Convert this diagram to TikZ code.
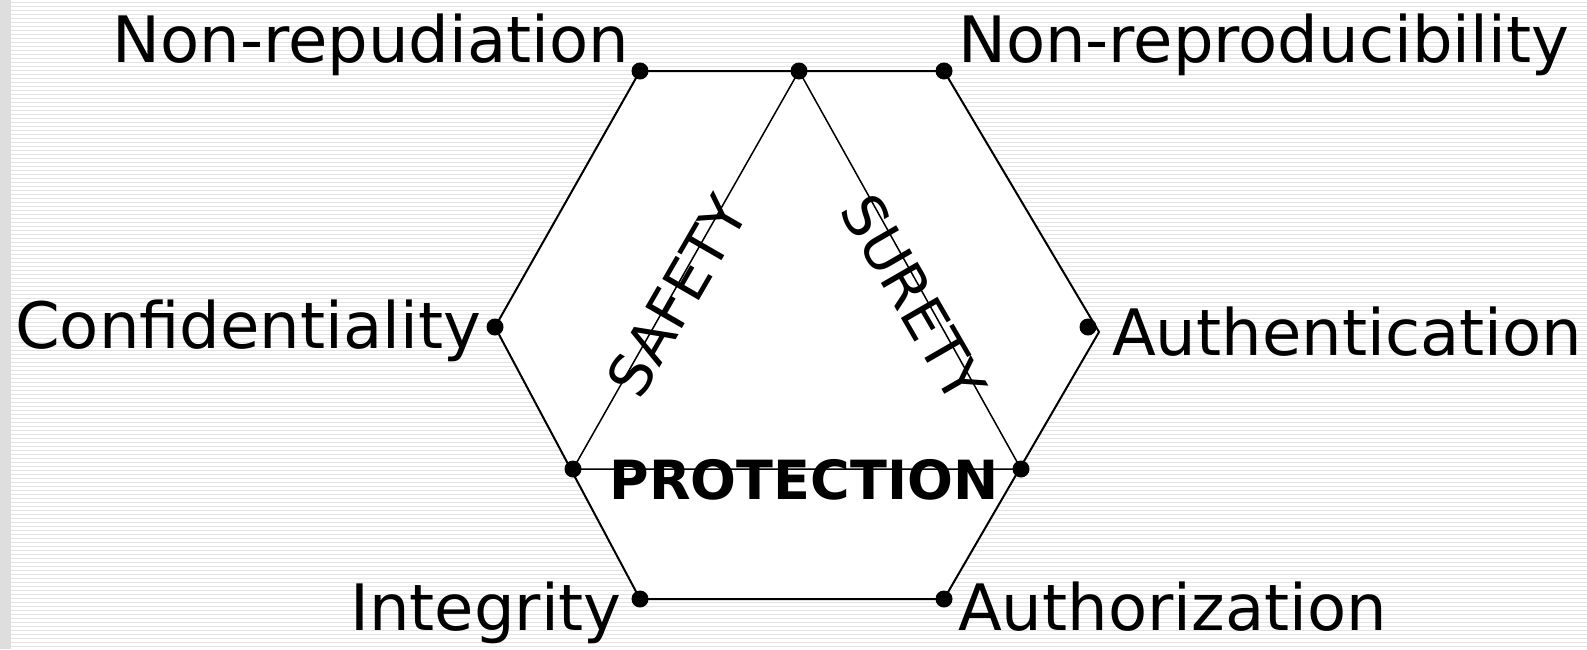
\documentclass[tikz,border=0pt]{standalone}
\usepackage{fontspec}
\setmainfont{DejaVu Sans}
\definecolor{stripe}{HTML}{E3E3E3}
\definecolor{leftbar}{HTML}{DEDEDE}
\begin{document}
\begin{tikzpicture}[x=1pt,y=-1pt,
  dot/.style={circle,fill=black,inner sep=0pt,minimum size=17pt},
  lbl/.style={inner sep=0pt,font=\fontsize{64}{70}\selectfont},
  word/.style={inner sep=0pt,font=\fontsize{58}{62}\selectfont},
  boldword/.style={inner sep=0pt,font=\fontsize{54}{60}\selectfont\bfseries},
  hexline/.style={line width=2pt,line join=miter},
  triline/.style={line width=1.5pt}]
\useasboundingbox (0,0) rectangle (1587,649);
\fill[white] (0,0) rectangle (1587,649);
\foreach \y in {2,6,...,646} \draw[stripe,line width=1pt] (10,\y) -- (1587,\y);
\fill[leftbar] (0,0) rectangle (11,649);
% vertices
\coordinate (TL) at (640,71);
\coordinate (TM) at (799,71);
\coordinate (TR) at (944,71);
\coordinate (hR) at (1099,332);
\coordinate (R) at (1088,327);
\coordinate (BR) at (944,599);
\coordinate (BL) at (640,599);
\coordinate (L) at (495,327);
\coordinate (LL) at (573,469);
\coordinate (LR) at (1021,469);
% hexagon
\fill[white] (TL) -- (TR) -- (hR) -- (BR) -- (BL) -- (L) -- cycle;
\draw[hexline] (TL) -- (TM) -- (TR) -- (hR) -- (BR) -- (BL) -- (L) -- cycle;
% triangle
\draw[triline] (TM) -- (LL) -- (LR) -- cycle;
% dots
\foreach \p in {TL,TM,TR,R,BR,BL,L,LL,LR} \node[dot] (d\p) at (\p) {};
% labels
\node[lbl,anchor=base east] (nrep) at (629,62) {Non-repudiation};
\node[lbl,anchor=base west] (nrepro) at (958,62) {Non-reproducibility};
\node[lbl,anchor=base west] (conf) at (15,348) {Confidentiality};
\node[lbl,anchor=base west] (auth) at (1112,355) {Authentication};
\node[lbl,anchor=base east] (integ) at (622,630) {Integrity};
\node[lbl,anchor=base west] (authz) at (958,630) {Authorization};
% inner words
\node[boldword,anchor=base] (prot) at (804,499) {PROTECTION};
\node[word,rotate=60] (safety) at (677,296) {SAFETY};
\node[word,rotate=-60] (surety) at (914,298) {SURETY};
\end{tikzpicture}
\end{document}
